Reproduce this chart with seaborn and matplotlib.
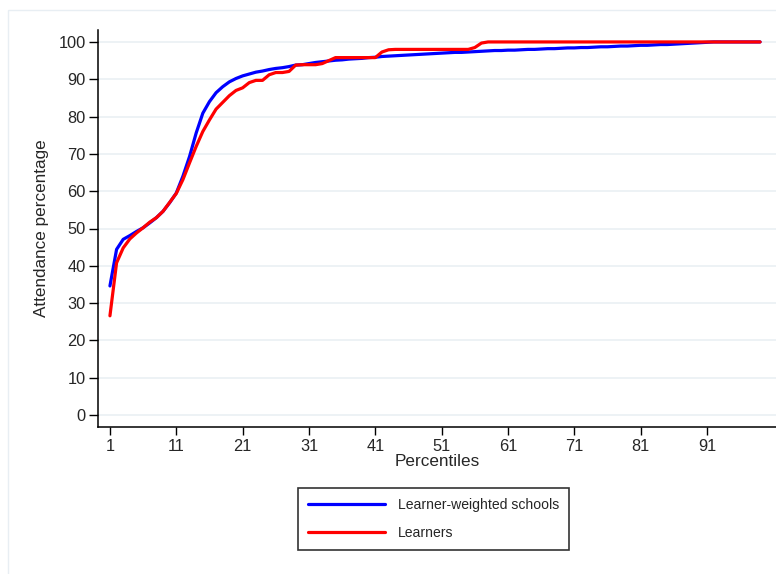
import numpy as np
import pandas as pd
import matplotlib
matplotlib.use("Agg")
import matplotlib.pyplot as plt
import seaborn as sns
from matplotlib.patches import Rectangle
from matplotlib.lines import Line2D

percentiles = list(range(1, 100))

schools = [34.6, 44.4, 47.1, 48.1, 49.2, 50.2, 51.5, 52.9, 54.6, 56.9,
           59.5, 64.0, 69.3, 75.6, 80.9, 84.0, 86.4, 88.0, 89.3, 90.2,
           90.9, 91.4, 91.9, 92.2, 92.6, 92.9, 93.1, 93.4, 93.8, 93.9,
           94.2, 94.5, 94.7, 94.9, 95.1, 95.2, 95.4, 95.5, 95.6, 95.8,
           95.9, 96.1, 96.2, 96.3, 96.4, 96.5, 96.6, 96.7, 96.8, 96.9,
           97.0, 97.1, 97.2, 97.2, 97.3, 97.4, 97.5, 97.6, 97.7, 97.7,
           97.8, 97.8, 97.9, 98.0, 98.0, 98.1, 98.2, 98.2, 98.3, 98.4,
           98.4, 98.5, 98.5, 98.6, 98.7, 98.7, 98.8, 98.9, 98.9, 99.0,
           99.1, 99.1, 99.2, 99.3, 99.3, 99.4, 99.5, 99.6, 99.7, 99.8,
           99.9, 100.0, 100.0, 100.0, 100.0, 100.0, 100.0, 100.0, 100.0]

learners = [26.6, 40.8, 44.8, 47.2, 48.8, 50.2, 51.7, 52.9, 54.6, 57.0,
            59.4, 63.1, 67.6, 72.0, 76.0, 79.1, 82.0, 83.8, 85.6, 87.0,
            87.7, 89.1, 89.7, 89.7, 91.2, 91.8, 91.8, 92.1, 93.8, 93.9,
            93.9, 93.9, 94.2, 95.0, 95.8, 95.8, 95.8, 95.8, 95.8, 95.8,
            95.8, 97.3, 97.9, 98.0, 98.0, 98.0, 98.0, 98.0, 98.0, 98.0,
            98.0, 98.0, 98.0, 98.0, 98.0, 98.5, 99.7, 100.0, 100.0, 100.0,
            100.0, 100.0, 100.0, 100.0, 100.0, 100.0, 100.0, 100.0, 100.0, 100.0,
            100.0, 100.0, 100.0, 100.0, 100.0, 100.0, 100.0, 100.0, 100.0, 100.0,
            100.0, 100.0, 100.0, 100.0, 100.0, 100.0, 100.0, 100.0, 100.0, 100.0,
            100.0, 100.0, 100.0, 100.0, 100.0, 100.0, 100.0, 100.0, 100.0]

series_names = ["Learner-weighted schools", "Learners"]
series_colors = ["#0000ff", "#ff0000"]
x_ticks = list(range(1, 100, 10))
y_ticks = list(range(0, 101, 10))

df = pd.DataFrame({
    "Percentiles": percentiles * 2,
    "value": schools + learners,
    "series": [series_names[0]] * len(percentiles) + [series_names[1]] * len(percentiles),
})

sns.set_style("white")
plt.rcParams["font.family"] = ["Liberation Sans", "DejaVu Sans"]

fig = plt.figure(figsize=(7.76, 5.74), dpi=100)
ax = fig.add_axes([98 / 776, 1 - 427 / 574, 1 - 98 / 776, (427 - 30) / 574])

sns.lineplot(data=df, x="Percentiles", y="value", hue="series",
             palette=series_colors, hue_order=series_names,
             linewidth=2.3, ax=ax, legend=False)

ax.set_xlim(-0.8, 101.4)
ax.set_ylim(-3.2, 103.2)
ax.set_xticks(x_ticks)
ax.set_yticks(y_ticks)
ax.tick_params(axis="y", direction="out", length=6.5, width=1,
               color="black", labelsize=11.8, pad=2.5, left=True)
ax.tick_params(axis="x", direction="out", length=5.8, width=1,
               color="black", labelsize=11.8, pad=2.5, bottom=True)
ax.grid(axis="y", color="#eaf0f4", linewidth=1.2)
ax.set_axisbelow(True)
for s in ["top", "right"]:
    ax.spines[s].set_visible(False)
for s in ["left", "bottom"]:
    ax.spines[s].set_color("black")
    ax.spines[s].set_linewidth(1.1)

ax.set_xlabel("Percentiles", fontsize=12.3, labelpad=0)
ax.set_ylabel("Attendance percentage", fontsize=12.3, labelpad=7)

handles = [Line2D([0], [0], color=c, linewidth=2.3) for c in series_colors]
leg = fig.legend(handles, series_names, loc="upper left",
                 bbox_to_anchor=(298 / 776, 1 - 488 / 574),
                 borderaxespad=0, fontsize=10.1, handlelength=5.5,
                 handletextpad=0.95, labelspacing=1.0, borderpad=0.7,
                 fancybox=False, frameon=True)
leg.get_frame().set_edgecolor("#333333")
leg.get_frame().set_linewidth(1.2)
leg.get_frame().set_alpha(1)

fig.patches.append(Rectangle((8 / 776, -0.1), 1.2, 1 - 10 / 574 + 0.1,
                             transform=fig.transFigure, fill=False,
                             edgecolor="#e8eef3", linewidth=1))

fig.savefig("out.png", dpi=100)
